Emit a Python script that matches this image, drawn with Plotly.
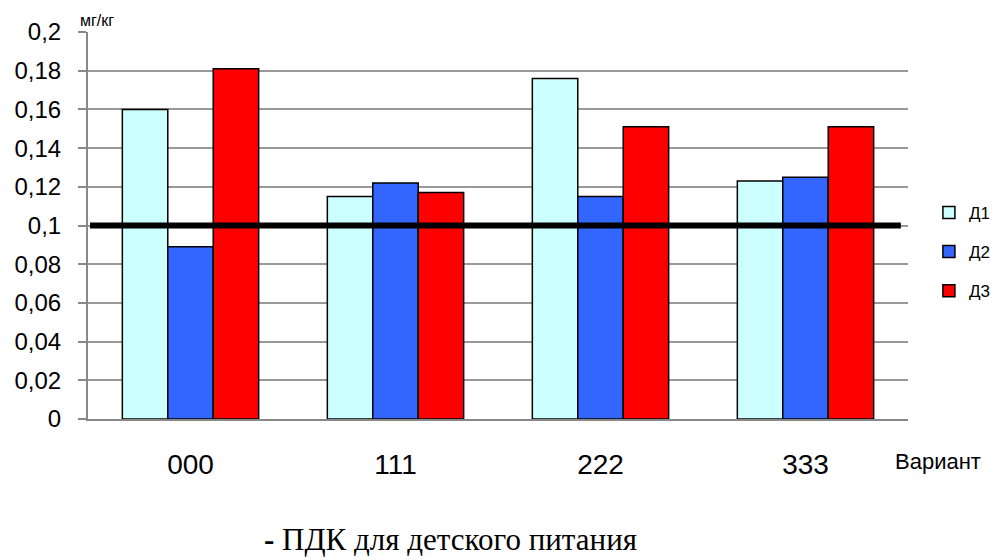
import plotly.graph_objects as go

categories = ["000", "111", "222", "333"]
d1 = [0.160, 0.115, 0.176, 0.123]
d2 = [0.089, 0.122, 0.115, 0.125]
d3 = [0.181, 0.117, 0.151, 0.151]
series_names = ["Д1", "Д2", "Д3"]
pdk_value = 0.1
y_ticks = [0, 0.02, 0.04, 0.06, 0.08, 0.1, 0.12, 0.14, 0.16, 0.18, 0.2]
y_tick_labels = ["0", "0,02", "0,04", "0,06", "0,08", "0,1", "0,12", "0,14", "0,16", "0,18", "0,2"]

colors = ["#CCFFFF", "#3366FF", "#FF0000"]
xs = list(range(len(categories)))

fig = go.Figure()
for name, vals, c in zip(series_names, [d1, d2, d3], colors):
    fig.add_trace(go.Bar(x=xs, y=vals, name=name, legendgroup=name,
                         marker=dict(color=c, line=dict(color="black", width=1.5))))

fig.add_trace(go.Scatter(x=[-0.49, 3.465], y=[pdk_value, pdk_value], mode="lines",
                         line=dict(color="black", width=6), showlegend=False, hoverinfo="skip"))

fig.update_layout(
    width=1007, height=560,
    margin=dict(l=88, r=89, t=32, b=141),
    plot_bgcolor="white", paper_bgcolor="white",
    barmode="group", bargap=0.335, bargroupgap=0,
    font=dict(family="Liberation Sans, Arial", color="black"),
    legend=dict(x=1.0255, y=0.579, xanchor="left", yanchor="top", font=dict(size=17),
                itemwidth=30, traceorder="grouped", tracegroupgap=14, bgcolor="rgba(0,0,0,0)"),
    xaxis=dict(tickvals=xs, ticktext=categories, range=[-0.5, 3.5], showline=True,
               linecolor="#888888", linewidth=2, ticks="", tickfont=dict(size=28),
               ticklabelstandoff=19, showgrid=False, zeroline=False),
    yaxis=dict(range=[0, 0.2], tickvals=y_ticks, ticktext=y_tick_labels, showline=True,
               linecolor="#888888", linewidth=2, ticks="outside", ticklen=8, tickcolor="#888888",
               tickwidth=2, gridcolor="#999999", gridwidth=2, tickfont=dict(size=24),
               ticklabelstandoff=12, zeroline=False),
    annotations=[
        dict(text="мг/кг", xref="paper", yref="paper", x=0.0, y=1.0, xanchor="left", yanchor="bottom",
             yshift=1, xshift=-10, showarrow=False, font=dict(size=16)),
        dict(text="Вариант", xref="paper", yref="paper", x=1.0, y=0, xanchor="left", yanchor="middle",
             xshift=-15, yshift=-42, showarrow=False, font=dict(size=22)),
        dict(text="<b>-</b> ПДК для детского питания", xref="paper", yref="paper", x=0.442, y=0,
             xanchor="center", yanchor="bottom", yshift=-140, showarrow=False,
             font=dict(size=31, family="Liberation Serif, Times New Roman")),
    ],
)

fig.write_html(
    "out.html",
    config={"displayModeBar": False},
    post_script=(
        "document.body.style.margin='0';"
        "document.body.style.overflow='hidden';"
        "document.documentElement.style.overflow='hidden';"
    ),
)
